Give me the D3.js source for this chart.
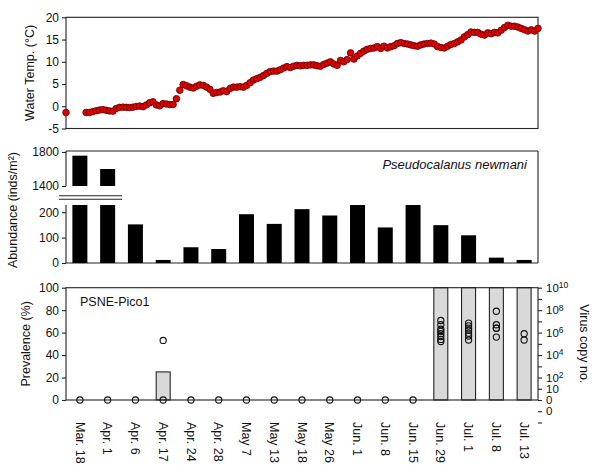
<!DOCTYPE html>
<html>
<head>
<meta charset="utf-8">
<script src="https://cdn.jsdelivr.net/npm/d3@7"></script>
<style>
  body { margin: 0; background: #fff; }
  text { font-family: Arial, "Liberation Sans", sans-serif; fill: #111; }
</style>
</head>
<body>
<div id="container"></div>
<script>
// sampling dates (categories)
let dates = ["Mar. 18", "Apr. 1", "Apr. 6", "Apr. 17", "Apr. 24", "Apr. 28", "May 7", "May 13",
             "May 18", "May 26", "Jun. 1", "Jun. 8", "Jun. 15", "Jun. 29", "Jul. 1", "Jul. 8", "Jul. 13"];

// daily water temperature (index = day step, null = no record)
let temps = [-1.4, null, null, null, null, null, -1.4, -1.4, -1.2, -1.0,
             -0.85, -0.75, -0.9, -1.05, -1.1, -0.5, -0.25, -0.2, -0.25, -0.3,
             -0.2, -0.05, 0.05, -0.1, 0.3, 0.8, 1.0, 0.3, 0.1, 0.6,
             0.5, 0.4, 0.4, 1.7, 3.6, 4.9, 4.6, 4.3, 4.1, 4.5,
             4.8, 4.7, 4.3, 3.8, 2.9, 3.1, 3.2, 3.5, 3.3, 4.0,
             4.3, 4.3, 4.4, 4.3, 4.7, 5.3, 5.9, 6.2, 6.5, 6.9,
             7.4, 7.8, 7.9, 7.9, 8.2, 8.6, 8.9, 8.7, 9.0, 9.2,
             9.1, 9.2, 9.2, 9.3, 9.3, 9.1, 9.0, 9.4, 9.7, 10.0,
             9.5, 9.2, 10.3, 10.0, 10.5, 12.0, 10.6, 11.3, 11.9, 12.4,
             12.8, 13.0, 13.1, 13.4, 13.0, 13.5, 13.1, 13.4, 13.6, 14.1,
             14.3, 14.1, 14.0, 13.8, 13.6, 13.5, 13.8, 14.0, 14.1, 14.2,
             14.0, 13.4, 13.2, 13.1, 13.5, 13.9, 14.1, 14.5, 14.9, 15.6,
             16.1, 16.7, 16.6, 16.6, 16.2, 16.0, 16.5, 16.3, 16.6, 16.5,
             17.1, 17.7, 18.2, 18.0, 18.0, 17.8, 17.5, 17.2, 16.9, 17.2,
             16.9, 17.5];

// Pseudocalanus newmani abundance (inds/m2)
let abundance = [1757, 1600, 152, 12, 62, 55, 192, 154, 212, 187, 240, 140, 230, 149, 109, 21, 12];

// PSNE-Pico1 prevalence (%)
let prevalence = [0, 0, 0, 25, 0, 0, 0, 0, 0, 0, 0, 0, 0, 100, 100, 100, 100];

// virus copy numbers per individual (0 = not detected)
let virusCopies = [
  [0], [0], [0], [0, 2e5], [0], [0], [0], [0], [0], [0], [0], [0], [0],
  [1.2e7, 5e6, 2e6, 1.3e6, 8e5, 4.5e5, 2.5e5, 1.6e5],
  [7e6, 4e6, 2.5e6, 1.6e6, 9e5, 5e5, 2.2e5],
  [8e7, 5e6, 2.5e6, 2.5e6, 4e5],
  [8e5, 2.2e5]
];

let tempTicks = [-5, 0, 5, 10, 15, 20];
let abundTicksHigh = [1400, 1800];
let abundTicksLow = [0, 100, 200];
let prevTicks = [0, 20, 40, 60, 80, 100];
let virusTicks = [1e10, 1e9, 1e8, 1e7, 1e6, 1e5, 1e4, 1e3, 1e2, 1e1, 1e0, 1e-1, 1e-2];
let virusLabels = {"10": "10|10", "8": "10|8", "6": "10|6", "4": "10|4", "2": "10|2", "1": "10", "0": "0", "-1": "0"};

let w = 595, h = 466;
let left = 66, right = 538;

let svg = d3.select("#container").append("svg")
  .attr("width", w).attr("height", h)
  .style("display", "block");

let x = d3.scaleBand().domain(dates).range([left, right]).paddingInner(0.46).paddingOuter(0.23);
let xDay = d3.scaleLinear().domain([0, temps.length - 1]).range([left, right]);
let plain = d => String(d);

function frame(top, bottom) {
  svg.append("rect")
    .attr("x", left).attr("y", top)
    .attr("width", right - left).attr("height", bottom - top)
    .attr("fill", "none").attr("stroke", "#222").attr("stroke-width", 1.1);
}
function styleAxis(g) {
  g.select(".domain").remove();
  g.selectAll(".tick line").attr("stroke", "#222").attr("stroke-width", 1.1);
  g.selectAll(".tick text").attr("font-size", 12).attr("fill", "#111");
}

// ---------- top panel: water temperature
let yT = d3.scaleLinear().domain([-5, 20]).range([128.5, 17.3]);
frame(17.3, 128.5);
svg.append("g").attr("transform", `translate(${left},0)`)
  .call(d3.axisLeft(yT).tickValues(tempTicks).tickFormat(plain).tickSize(4).tickPadding(3))
  .call(styleAxis);

let tempPts = temps.map((v, i) => ({i: i, v: v})).filter(d => d.v !== null);
svg.append("g").selectAll("circle").data(tempPts).enter()
  .append("circle")
  .attr("cx", d => xDay(d.i))
  .attr("cy", d => yT(d.v))
  .attr("r", 3.3)
  .attr("fill", "#e00000")
  .attr("stroke", "#5a0000")
  .attr("stroke-width", 0.8);

svg.append("text")
  .attr("transform", `translate(34,${(17.3 + 128.5) / 2}) rotate(-90)`)
  .attr("text-anchor", "middle")
  .attr("font-size", 12.5)
  .text("Water Temp. (\u00B0C)");

// ---------- middle panel: abundance with broken axis
let midTop = 151, midBottom = 263;
let yHigh = d3.scaleLinear().domain([1400, 1800]).range([186, 152]);
let yLow = d3.scaleLinear().domain([0, 250]).range([midBottom, 199.5]);
let lowCapY = 205;

function seg(x1, y1, x2, y2) {
  svg.append("line").attr("x1", x1).attr("x2", x2).attr("y1", y1).attr("y2", y2)
    .attr("stroke", "#222").attr("stroke-width", 1.1);
}
seg(left, midTop, right, midTop);
seg(right, midTop, right, midBottom);
seg(left, midBottom, right, midBottom);
seg(left, midTop, left, 186);
seg(left, lowCapY, left, midBottom);

svg.append("g").attr("transform", `translate(${left},0)`)
  .call(d3.axisLeft(yHigh).tickValues(abundTicksHigh).tickFormat(plain).tickSize(4).tickPadding(3))
  .call(styleAxis);
svg.append("g").attr("transform", `translate(${left},0)`)
  .call(d3.axisLeft(yLow).tickValues(abundTicksLow).tickFormat(plain).tickSize(4).tickPadding(3))
  .call(styleAxis);

// lower segment bars (capped at the break)
svg.append("g").selectAll("rect").data(abundance).enter()
  .append("rect")
  .attr("x", (d, i) => x(dates[i]))
  .attr("width", x.bandwidth())
  .attr("y", d => Math.max(yLow(d), lowCapY))
  .attr("height", d => midBottom - Math.max(yLow(d), lowCapY))
  .attr("fill", "#000");

// upper segment bars
svg.append("g").selectAll("rect").data(abundance.filter(d => d > 1400)).enter()
  .append("rect")
  .attr("x", (d, i) => x(dates[i]))
  .attr("width", x.bandwidth())
  .attr("y", d => yHigh(d))
  .attr("height", d => yHigh(1400) - yHigh(d))
  .attr("fill", "#000");

// break marks
seg(59, 195.7, 122, 195.7);
seg(59, 199.3, 122, 199.3);

svg.append("text")
  .attr("transform", `translate(17,${(midTop + midBottom) / 2 + 3}) rotate(-90)`)
  .attr("text-anchor", "middle")
  .attr("font-size", 12.5)
  .text("Abundance (inds/m\u00B2)");

svg.append("text")
  .attr("x", 527).attr("y", 169)
  .attr("text-anchor", "end")
  .attr("font-size", 13)
  .attr("font-style", "italic")
  .text("Pseudocalanus newmani");

// ---------- bottom panel: prevalence and virus copies
let botTop = 287.7, botBottom = 400;
let yP = d3.scaleLinear().domain([0, 100]).range([botBottom, botTop]);
let yV = d3.scaleLog().domain([1, 1e10]).range([botBottom, botTop]);

svg.append("g").selectAll("rect")
  .data(prevalence.map((v, i) => ({date: dates[i], v: v})).filter(d => d.v > 0))
  .enter().append("rect")
  .attr("x", d => x(d.date) + 0.5)
  .attr("width", x.bandwidth() - 1)
  .attr("y", d => yP(d.v))
  .attr("height", d => botBottom - yP(d.v))
  .attr("fill", "#d9d9d9")
  .attr("stroke", "#111")
  .attr("stroke-width", 1);

frame(botTop, botBottom);

svg.append("g").attr("transform", `translate(${left},0)`)
  .call(d3.axisLeft(yP).tickValues(prevTicks).tickFormat(plain).tickSize(4).tickPadding(3))
  .call(styleAxis);

let rightAxis = svg.append("g").attr("transform", `translate(${right},0)`)
  .call(d3.axisRight(yV).tickValues(virusTicks).tickSize(4).tickPadding(4).tickFormat(""))
  .call(styleAxis);
rightAxis.selectAll(".tick").each(function(d) {
  let key = String(Math.round(Math.log10(d)));
  let lab = virusLabels[key];
  if (!lab) return;
  let t = d3.select(this).select("text").text(null).attr("font-size", 11.5);
  let parts = lab.split("|");
  t.append("tspan").text(parts[0]);
  if (parts[1]) {
    t.append("tspan").attr("dy", "-0.45em").attr("font-size", 8.5).text(parts[1]);
  }
});

let virusPts = [];
virusCopies.forEach((arr, i) => arr.forEach(v => virusPts.push({date: dates[i], v: v})));
svg.append("g").selectAll("circle").data(virusPts).enter()
  .append("circle")
  .attr("cx", d => x(d.date) + x.bandwidth() / 2)
  .attr("cy", d => d.v > 0 ? yV(d.v) : botBottom)
  .attr("r", 3.1)
  .attr("fill", "none")
  .attr("stroke", "#111")
  .attr("stroke-width", 1.1);

svg.append("text")
  .attr("x", 80).attr("y", 306)
  .attr("font-size", 12.5)
  .text("PSNE-Pico1");

svg.append("text")
  .attr("transform", `translate(30,${(botTop + botBottom) / 2}) rotate(-90)`)
  .attr("text-anchor", "middle")
  .attr("font-size", 12.5)
  .text("Prevalence (%)");

svg.append("text")
  .attr("transform", `translate(580,${(botTop + botBottom) / 2}) rotate(90)`)
  .attr("text-anchor", "middle")
  .attr("font-size", 12.5)
  .text("Virus copy no.");

// rotated date labels
svg.append("g").selectAll("text").data(dates).enter()
  .append("text")
  .attr("transform", d => `translate(${x(d) + x.bandwidth() / 2},422) rotate(90)`)
  .attr("dy", "0.35em")
  .attr("font-size", 12.5)
  .text(d => d);
</script>
</body>
</html>
